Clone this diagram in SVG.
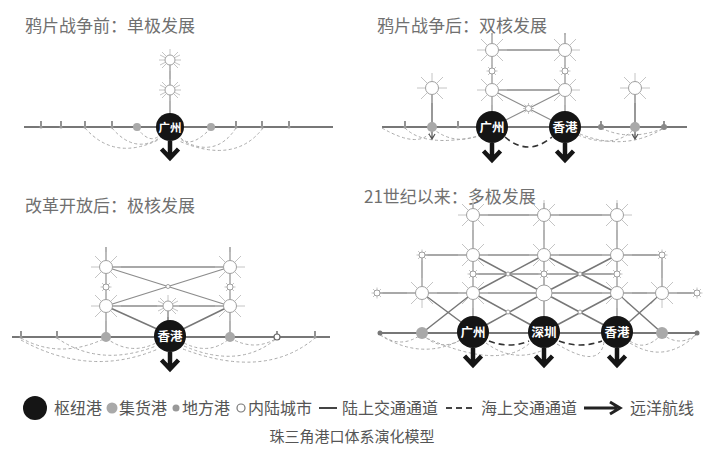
<svg xmlns="http://www.w3.org/2000/svg" width="704" height="454" viewBox="0 0 704 454">
<style>
.title{font-family:"Noto Sans CJK SC","Liberation Serif",serif;font-size:17px;fill:#707070}
.leg{font-family:"Noto Sans CJK SC","Liberation Sans",sans-serif;font-size:16px;fill:#555}
.cap{font-family:"Noto Sans CJK SC","Liberation Sans",sans-serif;font-size:15px;fill:#555}
.hubt{font-family:"Noto Sans CJK SC","Liberation Sans",sans-serif;font-size:12.5px;font-weight:bold;fill:#fff;text-anchor:middle}
.base{stroke:#777;stroke-width:2;fill:none}
.ln{stroke:#8c8c8c;stroke-width:1.3;fill:none}
.lnd{stroke:#777;stroke-width:1.5;fill:none}
.sea{stroke:#aaa;stroke-width:1;stroke-dasharray:3 2.5;fill:none}
.seaD{stroke:#333;stroke-width:1.6;stroke-dasharray:6 4;fill:none}
.hub{fill:#151515}
.col{fill:#a9a9a9}
.tick{stroke:#666;stroke-width:1.4;fill:none}
.arr{stroke:#151515;stroke-width:4.5;fill:none;stroke-linejoin:miter}
.ray{stroke:#c4c4c4;stroke-width:1}
.sc{fill:#fff;stroke:#a0a0a0;stroke-width:1}
</style>
<defs>
<g id="sunB">
<path class="ray" d="M-15,0H15M0,-15V15M-11,-11L11,11M-11,11L11,-11"/>
<circle class="sc" r="6.5"/>
</g>
<g id="sunM">
<path class="ray" d="M-11,0H11M0,-11V11M-8,-8L8,8M-8,8L8,-8M-10,-5L10,5M-10,5L10,-5"/>
<circle class="sc" r="5"/>
</g>
<g id="sunS">
<path class="ray" d="M-5.5,0H5.5M0,-5.5V5.5M-4,-4L4,4M-4,4L4,-4"/>
<circle class="sc" r="3"/>
</g>
<circle id="dot" class="sc" r="2"/>
<g id="arr"><path class="arr" d="M0,0V17M-8.5,8L0,17L8.5,8"/></g>
<g id="tk"><path class="tick" d="M0,0V-6"/><circle r="1.6" fill="#999"/></g>
</defs>
<rect width="704" height="454" fill="#fff"/>

<!-- Titles -->
<text class="title" x="25" y="32">鸦片战争前：单极发展</text>
<text class="title" x="377" y="32">鸦片战争后：双核发展</text>
<text class="title" x="25" y="212">改革开放后：极核发展</text>
<text class="title" x="364" y="203">21世纪以来：多极发展</text>

<!-- Connectors -->
<g id="connectors">
<!-- panel 1 -->
<path class="base" d="M24,127H333"/>
<path class="ln" d="M170,60V127"/>
<path class="sea" d="M85,128Q115,162 160,139M112,128Q135,155 161,137M137,128Q150,145 160,135M211,128Q190,150 180,137M236,128Q215,160 180,139M263,128Q235,165 179,141"/>
<!-- panel 2 -->
<path class="base" d="M382,127H687"/>
<path class="ln" d="M492,33V127M565,33V127M492,50H565M492,90H565M492,90L565,127M565,90L492,127"/>
<path class="lnd" d="M432,88V127M635,88V127"/>
<path class="sea" d="M405,128Q425,148 480,136M432,128Q455,147 482,134M382,128Q420,150 432,130M578,135Q615,150 635,128M580,134Q625,152 664,128M601,128Q630,142 664,128"/>
<path class="seaD" d="M505,137Q528,157 552,137"/>
<path d="M432,127V138M429,134L432,139L435,134M635,127V138M632,134L635,139L638,134" stroke="#555" stroke-width="1.2" fill="none"/>
<!-- panel 3 -->
<path class="base" d="M12,337H330"/>
<path class="ln" d="M106,247V337M230,247V337M106,267H230M106,306H230M106,267L230,306M230,267L106,306"/>
<path class="lnd" d="M106,306L157,329M230,306L183,329M168,306V321"/>
<path class="sea" d="M21,338Q60,360 106,338M57,338Q100,368 156,346M106,338Q130,356 156,343M21,340Q90,378 158,349M184,343Q210,356 230,338M184,346Q240,370 277,338M230,338Q255,352 277,338M183,349Q265,380 315,338"/>
<!-- panel 4 -->
<path class="base" d="M380,333H697"/>
<path class="ln" d="M473,203V332M544,203V332M617,203V332M422,255V293M662,255V293M473,215H617M422,255H662M473,274H617M377,293H697"/>
<path class="lnd" d="M473,255L544,293M544,255L473,293M544,255L617,293M617,255L544,293M473,293L531,325M544,293L486,325M544,293L604,325M617,293L557,325M422,293L461,322M473,293L422,333M662,293L629,322M617,293L662,333"/>
<path class="sea" d="M380,334Q400,350 422,334M380,335Q420,360 459,341M422,334Q440,352 460,340M422,336Q500,372 531,342M486,343Q520,368 557,342M557,344Q600,370 604,342M630,341Q645,352 662,334M630,343Q665,365 697,334M662,334Q680,348 697,334"/>
<path class="seaD" d="M489,341Q510,349 529,341M559,341Q580,349 602,341"/>
</g>

<!-- Panel 1 nodes -->
<g id="p1-cities"><use href="#sunM" x="170" y="60"/><use href="#sunM" x="170" y="90"/></g>
<g id="p1-ports">
<use href="#tk" x="41" y="127"/><use href="#tk" x="61" y="127"/><use href="#tk" x="85" y="127"/><use href="#tk" x="112" y="127"/>
<use href="#tk" x="236" y="127"/><use href="#tk" x="262" y="127"/><use href="#tk" x="289" y="127"/>
<circle class="col" cx="137" cy="127" r="4"/><circle class="col" cx="211" cy="127" r="4"/>
</g>
<g id="p1-guangzhou"><circle class="hub" cx="170" cy="127" r="14"/><text class="hubt" x="170" y="131.5" style="font-size:11.5px">广州</text><use href="#arr" x="170" y="141"/></g>

<!-- Panel 2 nodes -->
<g id="p2-cities">
<use href="#sunB" x="492" y="50"/><use href="#sunB" x="565" y="50"/><use href="#sunB" x="492" y="90"/><use href="#sunB" x="565" y="90"/>
<use href="#sunS" x="492" y="71"/><use href="#sunS" x="565" y="71"/><use href="#sunS" x="528.5" y="108.5"/>
<use href="#sunB" x="432" y="88"/><use href="#sunB" x="635" y="88"/>
</g>
<g id="p2-ports">
<use href="#tk" x="405" y="127"/><use href="#tk" x="458" y="127"/>
<use href="#tk" x="601" y="127"/><circle cx="601" cy="127" r="3" fill="#888"/>
<use href="#tk" x="664" y="127"/><circle cx="664" cy="127" r="3" fill="#888"/>
<circle class="col" cx="432" cy="127" r="5"/><circle class="col" cx="635" cy="127" r="5"/>
</g>
<g id="p2-guangzhou"><circle class="hub" cx="492" cy="127" r="16"/><text class="hubt" x="492" y="131.5">广州</text><use href="#arr" x="492" y="143"/></g>
<g id="p2-hongkong"><circle class="hub" cx="565" cy="127" r="16"/><text class="hubt" x="565" y="131.5">香港</text><use href="#arr" x="565" y="143"/></g>

<!-- Panel 3 nodes -->
<g id="p3-cities">
<use href="#sunB" x="106" y="267"/><use href="#sunB" x="230" y="267"/><use href="#sunB" x="106" y="306"/><use href="#sunB" x="230" y="306"/>
<use href="#sunM" x="168" y="306"/>
<use href="#sunS" x="106" y="287"/><use href="#sunS" x="230" y="287"/><use href="#dot" x="168" y="286.5"/>
</g>
<g id="p3-ports">
<use href="#tk" x="21" y="337"/><use href="#tk" x="57" y="337"/><use href="#tk" x="315" y="337"/>
<use href="#tk" x="277" y="337"/><circle cx="277" cy="337" r="3" fill="#fff" stroke="#666" stroke-width="1.2"/>
<circle class="col" cx="106" cy="337" r="5"/><circle class="col" cx="230" cy="337" r="5"/>
</g>
<g id="p3-hongkong"><circle class="hub" cx="170" cy="336" r="16"/><text class="hubt" x="170" y="340.5">香港</text><use href="#arr" x="170" y="352"/></g>

<!-- Panel 4 nodes -->
<g id="p4-cities">
<use href="#sunB" x="473" y="215"/><use href="#sunB" x="544" y="215"/><use href="#sunB" x="617" y="215"/>
<use href="#sunB" x="473" y="255"/><use href="#sunB" x="544" y="255"/><use href="#sunB" x="617" y="255"/>
<use href="#sunB" x="422" y="293"/><use href="#sunB" x="473" y="293"/><use href="#sunB" x="617" y="293"/><use href="#sunB" x="662" y="293"/>
<circle class="sc" cx="544" cy="293" r="8"/>
<use href="#sunS" x="422" y="255"/><use href="#sunS" x="662" y="255"/><use href="#sunS" x="377" y="293"/><use href="#sunS" x="697" y="293"/>
<use href="#sunS" x="473" y="274"/><use href="#sunS" x="544" y="274"/><use href="#sunS" x="617" y="274"/>
<use href="#dot" x="508" y="274"/><use href="#dot" x="580" y="274"/><use href="#dot" x="508" y="312"/><use href="#dot" x="580" y="312"/>
</g>
<g id="p4-ports">
<circle cx="380" cy="333" r="2.5" fill="#777"/><circle cx="697" cy="333" r="2.5" fill="#777"/>
<circle class="col" cx="422" cy="333" r="6"/><circle class="col" cx="662" cy="333" r="6"/>
</g>
<g id="p4-guangzhou"><circle class="hub" cx="473" cy="332" r="16"/><text class="hubt" x="473" y="336.5">广州</text><use href="#arr" x="473" y="348"/></g>
<g id="p4-shenzhen"><circle class="hub" cx="544" cy="332" r="16"/><text class="hubt" x="544" y="336.5">深圳</text><use href="#arr" x="544" y="348"/></g>
<g id="p4-hongkong"><circle class="hub" cx="617" cy="332" r="16"/><text class="hubt" x="617" y="336.5">香港</text><use href="#arr" x="617" y="348"/></g>

<!-- Legend -->
<g id="legend">
<circle class="hub" cx="35" cy="408" r="12"/>
<text class="leg" x="54" y="413.5">枢纽港</text>
<circle class="col" cx="112" cy="408" r="5.5"/>
<text class="leg" x="119" y="413.5">集货港</text>
<circle cx="176" cy="408" r="3.5" fill="#999"/>
<text class="leg" x="182" y="413.5">地方港</text>
<circle cx="241" cy="408" r="4" fill="#fff" stroke="#777" stroke-width="1.2"/>
<text class="leg" x="248" y="413.5">内陆城市</text>
<path d="M319,408H337" stroke="#444" stroke-width="2"/>
<text class="leg" x="342" y="413.5">陆上交通通道</text>
<path d="M446,408H476" stroke="#444" stroke-width="2" stroke-dasharray="6 4"/>
<text class="leg" x="481" y="413.5">海上交通通道</text>
<path d="M584,408H617M610,402L620,408L610,414" stroke="#222" stroke-width="3" fill="none"/>
<text class="leg" x="630" y="413.5">远洋航线</text>
</g>
<text class="cap" x="352" y="442" text-anchor="middle">珠三角港口体系演化模型</text>
</svg>
